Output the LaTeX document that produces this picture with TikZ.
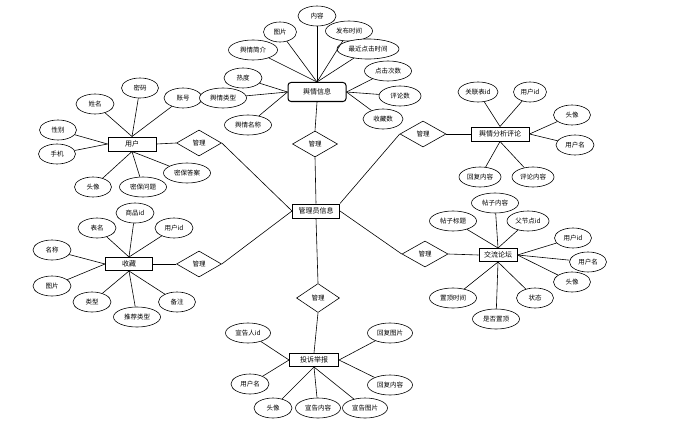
\documentclass[tikz,border=0pt]{standalone}
\usepackage{fontspec}
\setmainfont{Noto Sans CJK SC}
\usetikzlibrary{shapes.geometric}
\tikzset{
  attr/.style={ellipse, draw, fill=white, line width=0.6pt, minimum width=38pt, minimum height=20pt, inner sep=0pt, font=\fontsize{6.5}{7}\selectfont},
  ent/.style={rectangle, draw, fill=white, line width=1pt, minimum height=14pt, inner sep=0pt, font=\fontsize{7}{8}\selectfont},
  rel/.style={diamond, draw, fill=white, line width=0.6pt, minimum width=45pt, minimum height=26pt, inner sep=0pt, font=\fontsize{6.5}{7}\selectfont},
  conn/.style={line width=0.6pt}
}
\begin{document}
\begin{tikzpicture}[x=1pt,y=-1pt]
\useasboundingbox (0,0) rectangle (700,425);
% central
\node[ent, minimum width=47pt] (admin) at (316,211) {管理员信息};
% 用户
\node[ent, minimum width=48pt] (u) at (132,144) {用户};
\node[rel] (d1) at (199,143) {管理};
\node[attr, minimum width=37pt] (u1) at (140,88) {密码};
\node[attr] (u2) at (95,104) {姓名};
\node[attr] (u3) at (183,98) {账号};
\node[attr, minimum width=37pt] (u4) at (58,130) {性别};
\node[attr, minimum width=37pt] (u5) at (57,154) {手机};
\node[attr, minimum width=37pt] (u6) at (93,187) {头像};
\node[attr, minimum width=47pt] (u7) at (143,187) {密保问题};
\node[attr, minimum width=47pt] (u8) at (187,173) {密保答案};
\foreach \n in {u1,u2,u3} \draw[conn] (u.north) -- (\n);
\foreach \n in {u4,u5} \draw[conn] (u.west) -- (\n);
\foreach \n in {u6,u7,u8} \draw[conn] (u.south) -- (\n);
\draw[conn] (u.east) -- (d1.west);
\draw[conn] (d1.east) -- (admin.west);
% 舆情信息
\node[ent, rounded corners=3pt, minimum width=58pt, minimum height=19pt] (yq) at (317,92) {舆情信息};
\node[rel] (d0) at (315,144) {管理};
\node[attr] (a1) at (317,16) {内容};
\node[attr, minimum width=33pt] (a2) at (280,32) {图片};
\node[attr, minimum width=47pt] (a3) at (349,31) {发布时间};
\node[attr, minimum width=62pt] (a4) at (368,49) {最近点击时间};
\node[attr, minimum width=49pt] (a5) at (253,50) {舆情简介};
\node[attr, minimum width=47pt] (a6) at (388,71) {点击次数};
\node[attr] (a7) at (243,78) {热度};
\node[attr, minimum width=42pt] (a8) at (400,96) {评论数};
\node[attr, minimum width=47pt] (a9) at (223,98) {舆情类型};
\node[attr, minimum width=47pt] (a10) at (248,125) {舆情名称};
\node[attr, minimum width=40pt] (a11) at (383,119) {收藏数};
\foreach \n in {a1,a2,a3,a4,a5} \draw[conn] (yq.north) -- (\n);
\foreach \n in {a7,a9,a10} \draw[conn] (yq.west) -- (\n);
\foreach \n in {a6,a8,a11} \draw[conn] (yq.east) -- (\n);
\draw[conn] (yq.south) -- (d0.north);
\draw[conn] (d0.south) -- (admin.north);
% 舆情分析评论
\node[ent, minimum width=58pt] (c) at (500,134) {舆情分析评论};
\node[rel, minimum width=46pt] (d2) at (423,134) {管理};
\node[attr, minimum width=40pt] (c1) at (478,92) {关联表id};
\node[attr, minimum width=33pt] (c2) at (530,92) {用户id};
\node[attr, minimum width=37pt] (c3) at (572,115) {头像};
\node[attr, minimum width=38pt] (c4) at (575,145) {用户名};
\node[attr, minimum width=42pt] (c5) at (480,177) {回复内容};
\node[attr, minimum width=42pt] (c6) at (533,177) {评论内容};
\foreach \n in {c1,c2} \draw[conn] (c.north) -- (\n);
\foreach \n in {c3,c4} \draw[conn] (c.east) -- (\n);
\foreach \n in {c5,c6} \draw[conn] (c.south) -- (\n);
\draw[conn] (c.west) -- (d2.east);
\draw[conn] (d2.west) -- (admin.north east);
% 收藏
\node[ent, minimum width=47pt, minimum height=13pt] (s) at (129,264) {收藏};
\node[rel] (d3) at (199,264) {管理};
\node[attr] (s1) at (97,228) {表名};
\node[attr] (s2) at (135,213) {商品id};
\node[attr] (s3) at (174,228) {用户id};
\node[attr] (s4) at (52,250) {名称};
\node[attr] (s5) at (52,286) {图片};
\node[attr] (s6) at (92,302) {类型};
\node[attr, minimum width=47pt] (s7) at (137,317) {推荐类型};
\node[attr, minimum width=37pt] (s8) at (177,302) {备注};
\foreach \n in {s1,s2,s3} \draw[conn] (s.north) -- (\n);
\foreach \n in {s4,s5} \draw[conn] (s.west) -- (\n);
\foreach \n in {s6,s7,s8} \draw[conn] (s.south) -- (\n);
\draw[conn] (s.east) -- (d3.west);
\draw[conn] (d3.east) -- (admin.west);
% 交流论坛
\node[ent, minimum width=38pt, minimum height=13pt] (f) at (498,255) {交流论坛};
\node[rel, minimum width=46pt] (d4) at (425,254) {管理};
\node[attr, minimum width=47pt] (f1) at (495,203) {帖子内容};
\node[attr, minimum width=47pt] (f2) at (453,221) {帖子标题};
\node[attr, minimum width=42pt] (f3) at (528,221) {父节点id};
\node[attr, minimum width=37pt] (f4) at (573,238) {用户id};
\node[attr, minimum width=37pt] (f5) at (588,262) {用户名};
\node[attr, minimum width=37pt] (f6) at (572,282) {头像};
\node[attr, minimum width=37pt] (f7) at (535,298) {状态};
\node[attr, minimum width=47pt] (f8) at (453,298) {置顶时间};
\node[attr, minimum width=47pt] (f9) at (496,319) {是否置顶};
\foreach \n in {f1,f2,f3} \draw[conn] (f.north) -- (\n);
\foreach \n in {f4,f5,f6} \draw[conn] (f.east) -- (\n);
\foreach \n in {f7,f8,f9} \draw[conn] (f.south) -- (\n);
\draw[conn] (f.west) -- (d4.east);
\draw[conn] (d4.west) -- (admin.east);
% 投诉举报
\node[ent, minimum width=49pt, minimum height=13pt] (t) at (314,360) {投诉举报};
\node[rel, minimum width=43pt, minimum height=29pt] (d5) at (318,298) {管理};
\node[attr, minimum width=45pt] (t1) at (248,333) {宣告人id};
\node[attr] (t2) at (250,384) {用户名};
\node[attr] (t3) at (273,408) {头像};
\node[attr, minimum width=45pt] (t4) at (318,408) {宣告内容};
\node[attr, minimum width=45pt] (t5) at (365,408) {宣告图片};
\node[attr, minimum width=45pt] (t6) at (390,333) {回复图片};
\node[attr, minimum width=45pt] (t7) at (390,385) {回复内容};
\foreach \n in {t1,t2} \draw[conn] (t.west) -- (\n);
\foreach \n in {t3,t4,t5} \draw[conn] (t.south) -- (\n);
\foreach \n in {t6,t7} \draw[conn] (t.east) -- (\n);
\draw[conn] (admin.south) -- (d5.north);
\draw[conn] (d5.south) -- (t.north);
\end{tikzpicture}
\end{document}
